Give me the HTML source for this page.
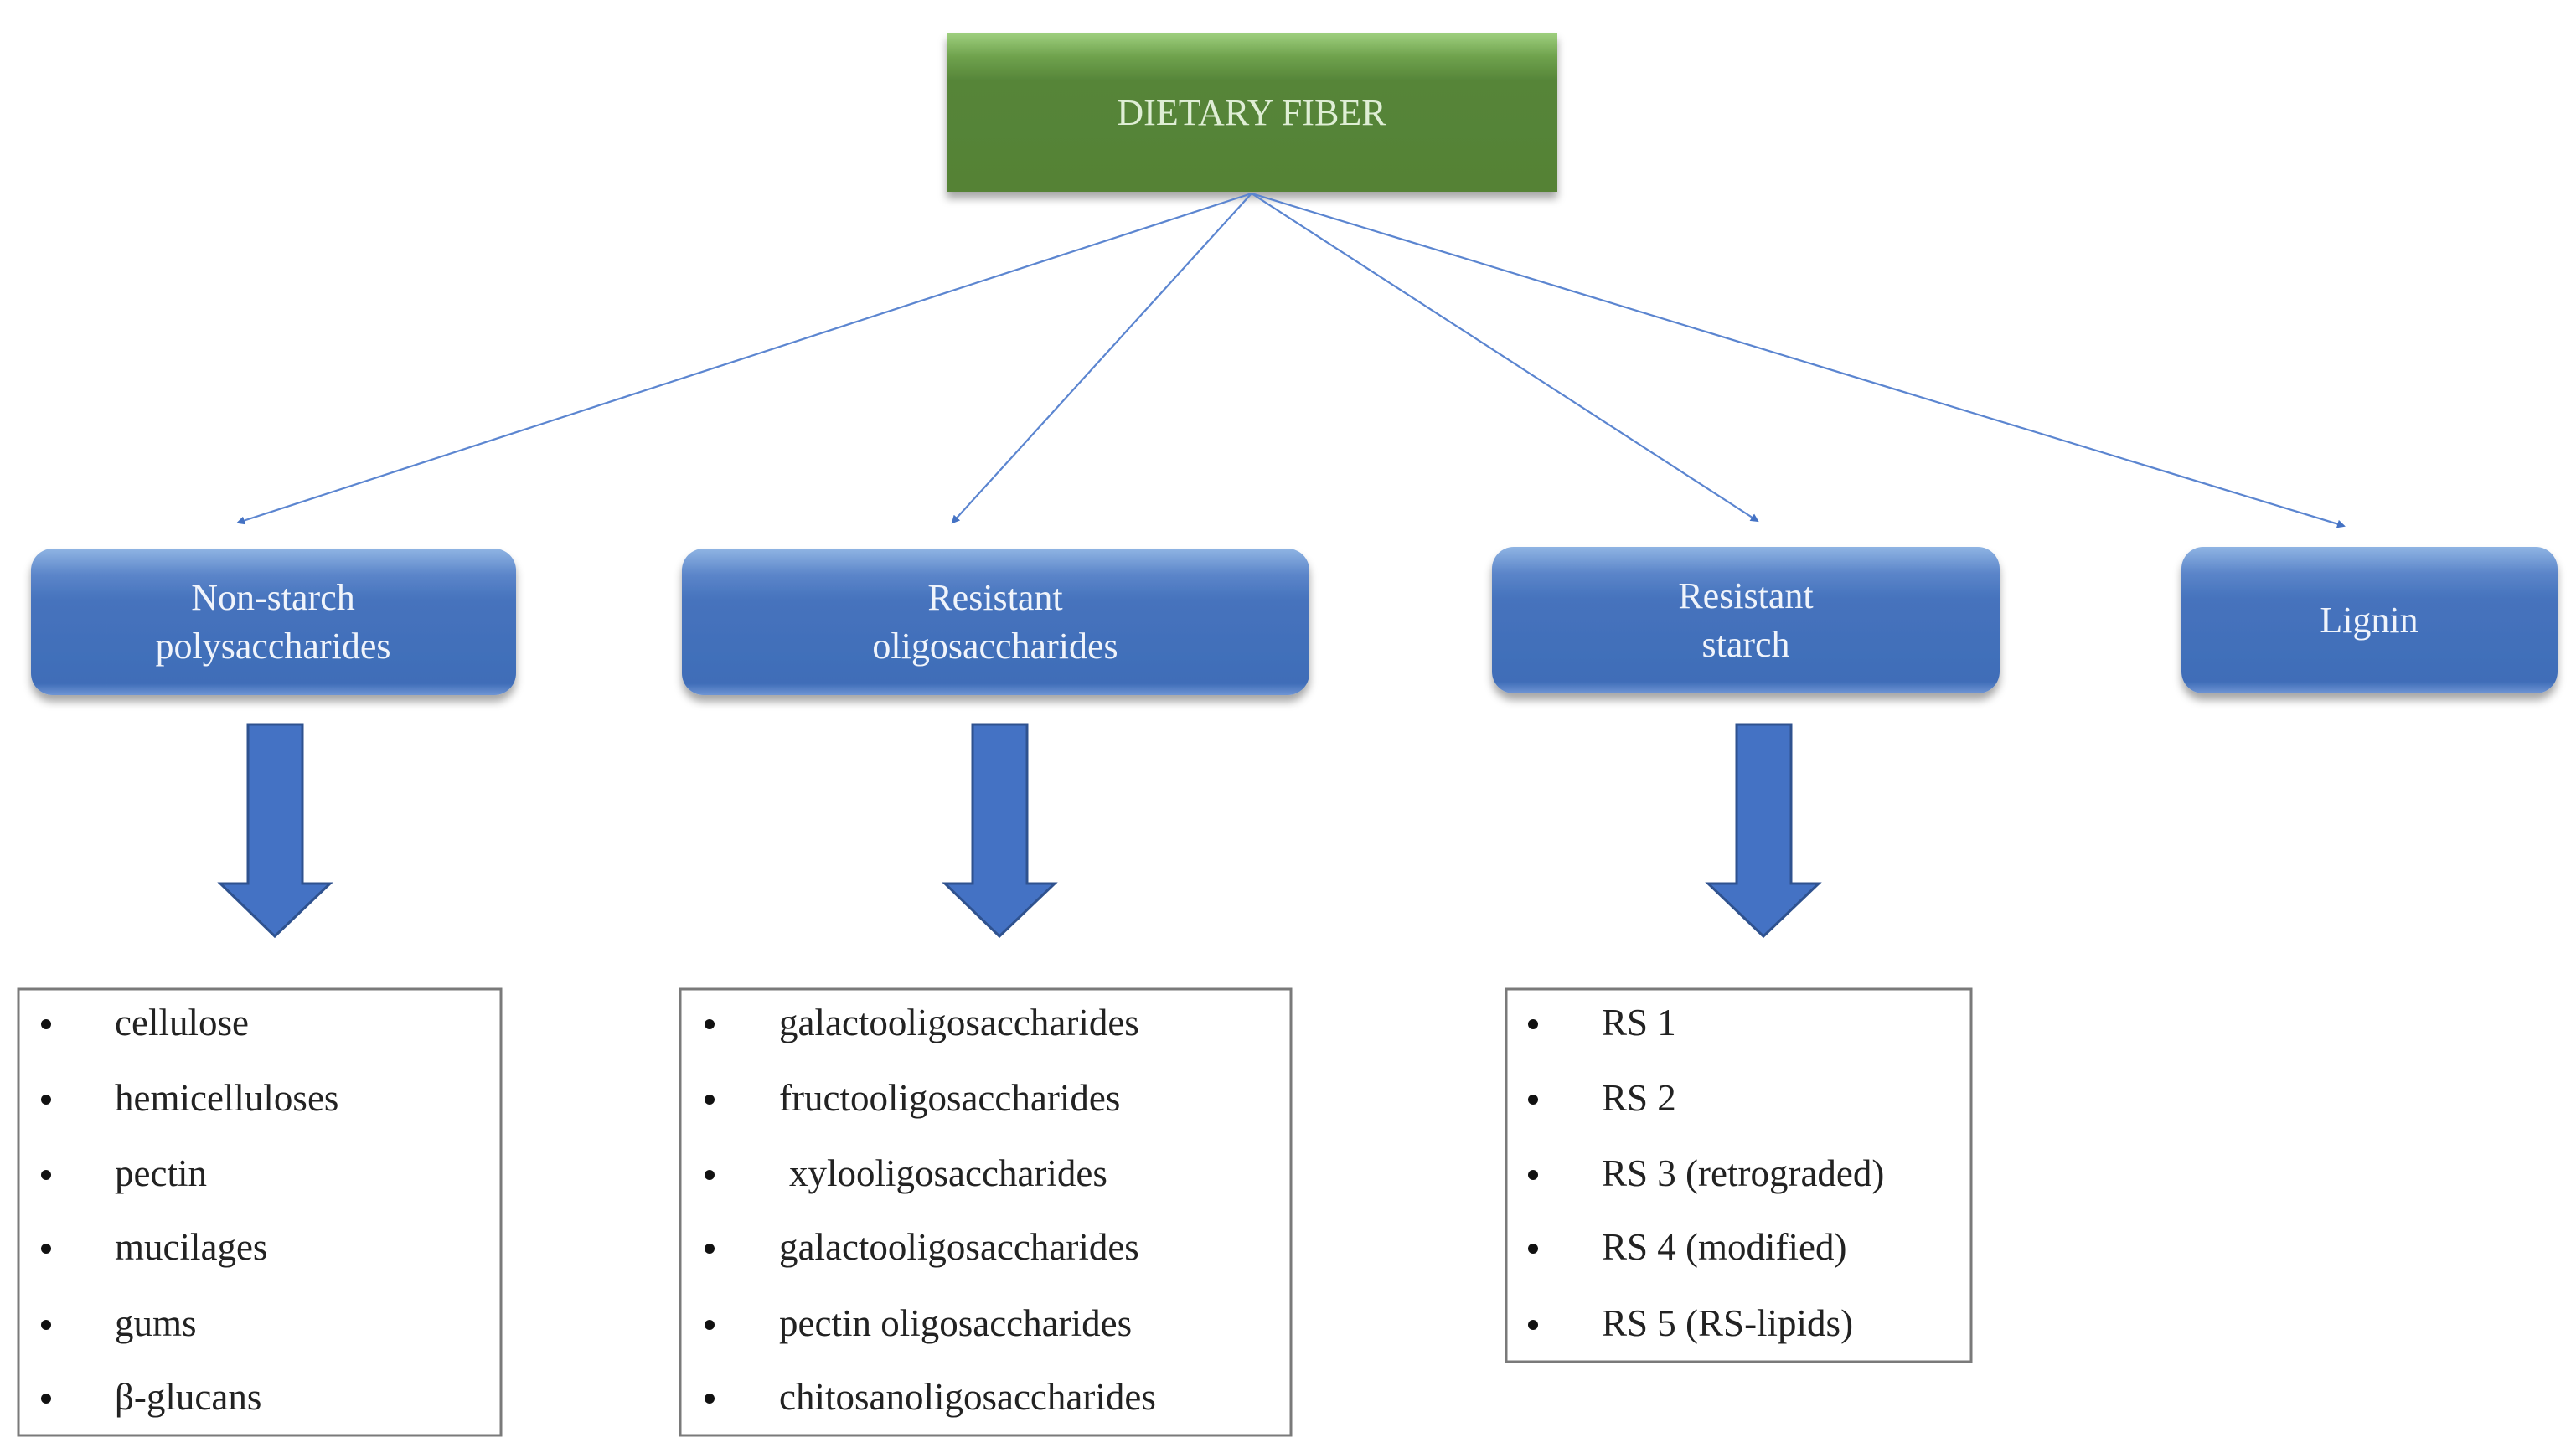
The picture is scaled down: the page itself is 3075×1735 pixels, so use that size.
<!DOCTYPE html>
<html><head><meta charset="utf-8"><style>
html,body{margin:0;padding:0;background:#fff;}
svg{display:block;}
text{font-family:"Liberation Serif",serif;}
</style></head><body>
<svg width="3075" height="1735" viewBox="0 0 3075 1735" xmlns="http://www.w3.org/2000/svg">
<defs>
<linearGradient id="g" x1="0" y1="0" x2="0" y2="1">
<stop offset="0" stop-color="#9fd07f"/><stop offset="0.15" stop-color="#6fa24d"/><stop offset="0.3" stop-color="#568539"/><stop offset="1" stop-color="#548235"/>
</linearGradient>
<linearGradient id="b" x1="0" y1="0" x2="0" y2="1">
<stop offset="0" stop-color="#8fb4e3"/><stop offset="0.18" stop-color="#5b85c9"/><stop offset="0.35" stop-color="#4673bd"/><stop offset="0.92" stop-color="#3f6db8"/><stop offset="1" stop-color="#6f95d4"/>
</linearGradient>
<filter id="sh" x="-5%" y="-10%" width="110%" height="130%"><feDropShadow dx="0" dy="8" stdDeviation="5" flood-color="#000" flood-opacity="0.35"/></filter>
<marker id="ah" markerWidth="10" markerHeight="10" refX="8" refY="5" orient="auto" markerUnits="userSpaceOnUse" viewBox="0 0 10 10">
<path d="M0,0 L10,5 L0,10 z" fill="#4472c4"/></marker>
</defs>

<!-- Top box -->
<rect x="1130" y="39" width="729" height="190" fill="url(#g)" filter="url(#sh)"/>
<text x="1494" y="149" font-size="44" fill="#dfeed5" text-anchor="middle">DIETARY FIBER</text>

<!-- connectors -->
<g stroke="#5b85d0" stroke-width="2.2" fill="none" marker-end="url(#ah)">
<line x1="1494" y1="231" x2="284" y2="624"/>
<line x1="1494" y1="231" x2="1137" y2="624"/>
<line x1="1494" y1="231" x2="2098" y2="622"/>
<line x1="1494" y1="231" x2="2798" y2="628"/>
</g>

<!-- blue boxes -->
<g filter="url(#sh)">
<rect x="37" y="655" width="579" height="175" rx="26" fill="url(#b)"/>
<rect x="814" y="655" width="749" height="175" rx="26" fill="url(#b)"/>
<rect x="1781" y="653" width="606" height="175" rx="26" fill="url(#b)"/>
<rect x="2604" y="653" width="449" height="175" rx="26" fill="url(#b)"/>
</g>
<g font-size="44" fill="#f0f4fb" text-anchor="middle">
<text x="326" y="728">Non-starch</text><text x="326" y="786">polysaccharides</text>
<text x="1188" y="728">Resistant</text><text x="1188" y="786">oligosaccharides</text>
<text x="2084" y="726">Resistant</text><text x="2084" y="784">starch</text>
<text x="2828" y="755">Lignin</text>
</g>

<!-- block arrows -->
<g fill="#4472c4" stroke="#2f528f" stroke-width="3">
<path d="M296,865 H361 V1055 H394 L328,1118 L263,1055 H296 Z"/>
<path d="M1161,865 H1226 V1055 H1259 L1193,1118 L1128,1055 H1161 Z"/>
<path d="M2073,865 H2138 V1055 H2171 L2105,1118 L2039,1055 H2073 Z"/>
</g>

<!-- list boxes -->
<g fill="none" stroke="#7a7a7a" stroke-width="3">
<rect x="22" y="1181" width="576" height="533"/>
<rect x="812" y="1181" width="729" height="533"/>
<rect x="1798" y="1181" width="555" height="445"/>
</g>
<g font-size="45" fill="#222">
<g>
<text x="137" y="1236">cellulose</text>
<text x="137" y="1326">hemicelluloses</text>
<text x="137" y="1416">pectin</text>
<text x="137" y="1504">mucilages</text>
<text x="137" y="1595">gums</text>
<text x="137" y="1683">β-glucans</text>
</g>
<g>
<text x="930" y="1236">galactooligosaccharides</text>
<text x="930" y="1326">fructooligosaccharides</text>
<text x="942" y="1416">xylooligosaccharides</text>
<text x="930" y="1504">galactooligosaccharides</text>
<text x="930" y="1595">pectin oligosaccharides</text>
<text x="930" y="1683">chitosanoligosaccharides</text>
</g>
<g>
<text x="1912" y="1236">RS 1</text>
<text x="1912" y="1326">RS 2</text>
<text x="1912" y="1416">RS 3 (retrograded)</text>
<text x="1912" y="1504">RS 4 (modified)</text>
<text x="1912" y="1595">RS 5 (RS-lipids)</text>
</g>
</g>
<g fill="#111">
<circle cx="55" cy="1223" r="6"/><circle cx="55" cy="1313" r="6"/><circle cx="55" cy="1403" r="6"/><circle cx="55" cy="1491" r="6"/><circle cx="55" cy="1582" r="6"/><circle cx="55" cy="1670" r="6"/>
<circle cx="847" cy="1223" r="6"/><circle cx="847" cy="1313" r="6"/><circle cx="847" cy="1403" r="6"/><circle cx="847" cy="1491" r="6"/><circle cx="847" cy="1582" r="6"/><circle cx="847" cy="1670" r="6"/>
<circle cx="1830" cy="1223" r="6"/><circle cx="1830" cy="1313" r="6"/><circle cx="1830" cy="1403" r="6"/><circle cx="1830" cy="1491" r="6"/><circle cx="1830" cy="1582" r="6"/>
</g>
</svg>
</body></html>
